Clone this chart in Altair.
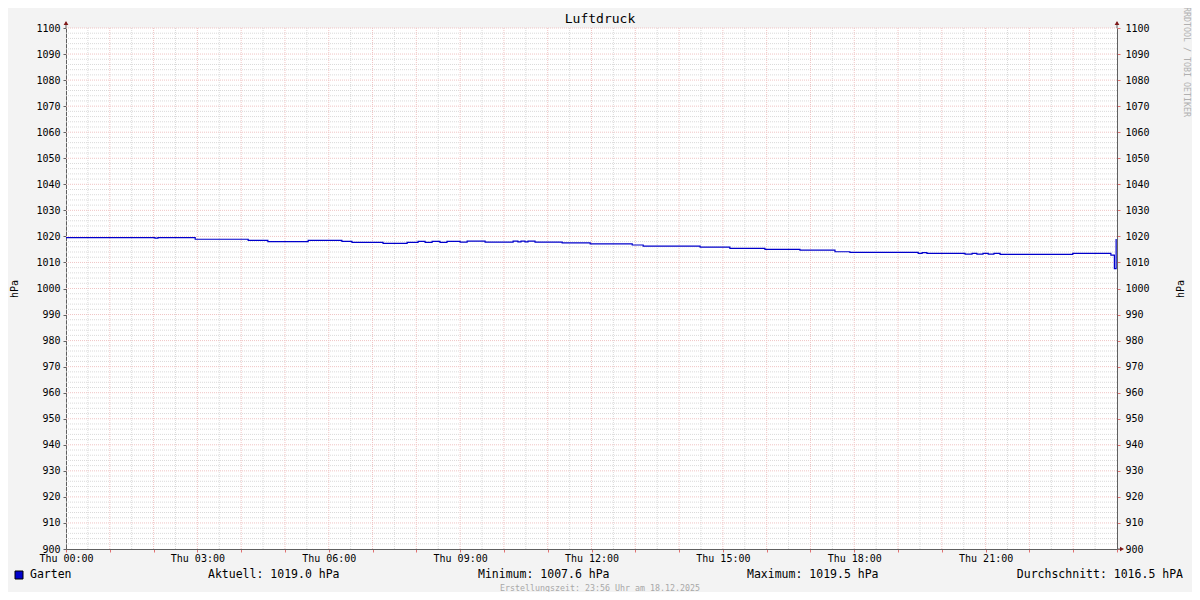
import altair as alt
import pandas as pd

# ---- data ----
hours = [0, 2.03, 2.10, 2.95, 4.16, 4.61, 5.53, 6.30, 6.53, 7.24, 7.79, 8.04, 8.20,
         8.36, 8.54, 8.70, 9.00, 9.16, 9.57, 10.21, 10.32, 10.39, 10.48, 10.55, 10.71,
         11.33, 11.97, 12.93, 13.18, 14.48, 15.16, 15.96, 16.76, 17.56, 17.90, 19.46,
         19.55, 19.66, 20.53, 20.69, 20.80, 20.94, 21.06, 21.19, 21.33, 22.99, 23.86,
         23.94, 23.98]
pressure = [1019.5, 1019.3, 1019.5, 1018.9, 1018.5, 1018.0, 1018.5, 1018.1, 1017.7,
            1017.3, 1017.7, 1018.1, 1017.7, 1018.1, 1017.7, 1018.1, 1017.8, 1018.2,
            1017.8, 1018.2, 1017.9, 1018.2, 1017.9, 1018.2, 1017.8, 1017.5, 1017.1,
            1016.7, 1016.3, 1015.9, 1015.4, 1015.0, 1014.7, 1014.1, 1013.9, 1013.5,
            1013.8, 1013.5, 1013.2, 1013.5, 1013.2, 1013.5, 1013.2, 1013.5, 1013.1,
            1013.5, 1012.8, 1007.6, 1019.0]
y_ticks = list(range(900, 1101, 10))
y_minor = [v for v in range(900, 1101, 2) if v % 10]
x_major = list(range(1, 24))
x_minor = [i + 0.5 for i in range(24)]
x_ticks = list(range(0, 25))

title_text = "Luftdruck"
series_name = "Garten"
stat_aktuell = "Aktuell: 1019.0 hPa"
stat_min = "Minimum: 1007.6 hPa"
stat_max = "Maximum: 1019.5 hPa"
stat_avg = "Durchschnitt: 1016.5 hPA"
footer = "Erstellungszeit: 23:56 Uhr am 18.12.2025"
watermark = "RRDTOOL / TOBI OETIKER"
unit = "hPa"

# ---- layout ----
W, H = 1051, 521
FONT = "DejaVu Sans Mono"
LINE_COLOR = "#0000CC"
AXIS_COLOR = "#606060"
ARROW_COLOR = "#801818"
MAJOR_GRID = "#F0C4C4"
MINOR_GRID = "#DADADA"

xs = alt.Scale(domain=[0, 24], nice=False, zero=False)
ys = alt.Scale(domain=[900, 1100], nice=False, zero=False)

line_df = pd.DataFrame({"h": hours, "p": pressure})
one = pd.DataFrame({"a": [0]})

minor_h = alt.Chart(pd.DataFrame({"p": y_minor})).mark_rule(
    color=MINOR_GRID, strokeDash=[1, 1], strokeWidth=1
).encode(y=alt.Y("p:Q", scale=ys, axis=None))
major_h = alt.Chart(pd.DataFrame({"p": y_ticks[1:]})).mark_rule(
    color=MAJOR_GRID, strokeDash=[1, 1], strokeWidth=1
).encode(y=alt.Y("p:Q", scale=ys, axis=None))
minor_v = alt.Chart(pd.DataFrame({"h": x_minor})).mark_rule(
    color=MINOR_GRID, strokeDash=[1, 1], strokeWidth=1
).encode(x=alt.X("h:Q", scale=xs, axis=None))
major_v = alt.Chart(pd.DataFrame({"h": x_major})).mark_rule(
    color=MAJOR_GRID, strokeDash=[1, 1], strokeWidth=1
).encode(x=alt.X("h:Q", scale=xs, axis=None))

x_label_expr = ("datum.value % 3 == 0 && datum.value < 24 ? 'Thu ' + "
                "(datum.value < 10 ? '0' : '') + datum.value + ':00' : ''")

line = alt.Chart(line_df).mark_line(
    interpolate="step-after", color=LINE_COLOR, strokeWidth=1.2
).encode(
    x=alt.X("h:Q", scale=xs, axis=alt.Axis(
        values=x_ticks, labelExpr=x_label_expr, grid=False, title=None,
        domainColor=AXIS_COLOR, tickColor="#E07070", tickSize=3,
        labelPadding=1, labelFont=FONT, labelFontSize=10, labelColor="black",
        labelFlush=False, labelOverlap=False)),
    y=alt.Y("p:Q", scale=ys, axis=alt.Axis(
        values=y_ticks, format="d", grid=False, title=unit, orient="left",
        domainColor=AXIS_COLOR, tickColor=AXIS_COLOR, tickSize=3,
        labelPadding=3, labelFont=FONT, labelFontSize=10, labelColor="black",
        labelFlush=False, labelOverlap=False,
        titleFont=FONT, titleFontSize=10, titleFontWeight="normal",
        titleColor="black", titleAngle=-90, titleX=-52, titleY=H / 2,
        titleAlign="center", titleBaseline="middle")),
)

right_axis = alt.Chart(line_df).mark_point(opacity=0).encode(
    y=alt.Y("p:Q", scale=ys, axis=alt.Axis(
        values=y_ticks, format="d", grid=False, title=unit, orient="right",
        domainColor=AXIS_COLOR, tickColor="#E07070", tickSize=3,
        labelPadding=5, labelFont=FONT, labelFontSize=10, labelColor="black",
        labelFlush=False, labelOverlap=False,
        titleFont=FONT, titleFontSize=10, titleFontWeight="normal",
        titleColor="black", titleAngle=-90, titleX=63, titleY=H / 2,
        titleAlign="center", titleBaseline="middle")),
)

# axis extensions and arrows
ext_left = alt.Chart(one).mark_rule(color=AXIS_COLOR).encode(
    x=alt.value(0), y=alt.value(-6), y2=alt.value(0))
ext_right = alt.Chart(one).mark_rule(color=AXIS_COLOR).encode(
    x=alt.value(W), y=alt.value(-6), y2=alt.value(0))
ext_bottom = alt.Chart(one).mark_rule(color=AXIS_COLOR).encode(
    x=alt.value(W), x2=alt.value(W + 4), y=alt.value(H))
arrow_left = alt.Chart(one).mark_point(
    shape="triangle-up", filled=True, color=ARROW_COLOR, size=22, opacity=1
).encode(x=alt.value(0), y=alt.value(-5))
arrow_right = alt.Chart(one).mark_point(
    shape="triangle-up", filled=True, color=ARROW_COLOR, size=22, opacity=1
).encode(x=alt.value(W), y=alt.value(-5))
arrow_bottom = alt.Chart(one).mark_point(
    shape="triangle-right", filled=True, color=ARROW_COLOR, size=22, opacity=1
).encode(x=alt.value(W + 5), y=alt.value(H))

# legend row
legend_box = alt.Chart(one).mark_rect(
    color=LINE_COLOR, stroke="black", strokeWidth=1
).encode(x=alt.value(-51), x2=alt.value(-43), y=alt.value(543), y2=alt.value(551))


def label(text, x, y, size=11.5, color="black", align="left", angle=0):
    return alt.Chart(one).mark_text(
        font=FONT, fontSize=size, color=color, align=align,
        baseline="middle", angle=angle
    ).encode(x=alt.value(x), y=alt.value(y), text=alt.value(text))


texts = [
    label(title_text, 534, -9, size=13, align="center"),
    label(series_name, -36, 547),
    label(stat_aktuell, 142, 547),
    label(stat_min, 412, 547),
    label(stat_max, 681, 547),
    label(stat_avg, 1117, 547, align="right"),
    label(footer, 534, 561, size=8.3, color="#A8A8A8", align="center"),
    label(watermark, 1120, 34, size=8.3, color="#B0B0B0", align="center", angle=90),
]

chart = alt.layer(
    minor_h, minor_v, major_h, major_v, line, right_axis,
    ext_left, ext_right, ext_bottom, arrow_left, arrow_right, arrow_bottom,
    legend_box, *texts
).resolve_axis(
    x="independent", y="independent"
).properties(
    width=W, height=H,
    padding={"left": 58, "top": 20, "right": 75, "bottom": 43},
    autosize=alt.AutoSizeParams(type="none"),
).configure(
    background="#F3F3F3"
).configure_view(
    fill="white", strokeWidth=0
)

chart.save("out.html", embed_options={"renderer": "svg", "actions": False})
